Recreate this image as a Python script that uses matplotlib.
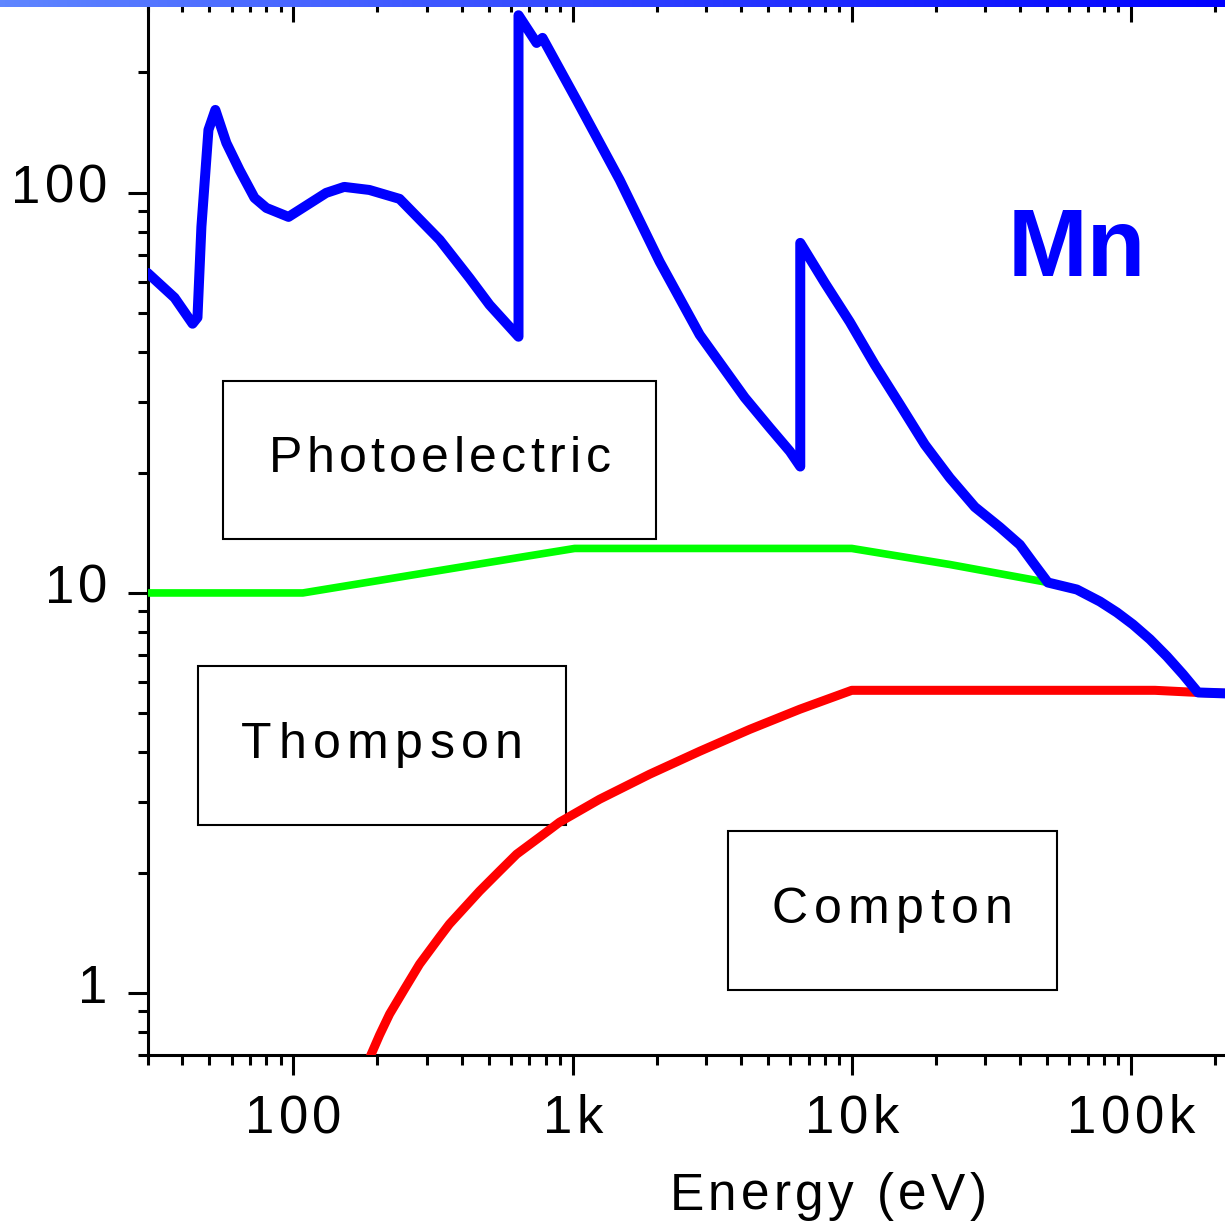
import numpy as np
import matplotlib
matplotlib.use("Agg")
import matplotlib.pyplot as plt
from matplotlib.colors import LinearSegmentedColormap
from matplotlib.font_manager import FontProperties, findfont, get_font
from matplotlib.patches import Rectangle
from matplotlib.ticker import NullFormatter
from matplotlib.transforms import offset_copy

# Total (photoelectric dominated) cross section for Mn
total_energy = [30, 37.5, 43.5, 45.3, 46.8, 49.6, 52.5, 57.5, 64.1, 72.5, 80, 96,
                131, 152, 187, 240, 334, 427, 504, 640, 640, 743, 780, 1033,
                1474, 2050, 2852, 4135, 5082, 6000, 6539, 6539, 8002, 9836,
                12090, 14860, 18260, 22450, 27600, 33930, 40010, 44540, 50410,
                64030, 77440, 89080, 101700, 117000, 134600, 153600, 173900,
                217300]
total_value = [63.1, 54.7, 47.1, 48.8, 82.3, 143.7, 161.2, 133.3, 114.1, 97.2,
               91.7, 87.1, 100, 103.5, 101.7, 96.6, 76.3, 61.3, 52.5, 43.7, 278,
               237, 244, 170.7, 107.8, 67.3, 44.2, 30.8, 25.9, 22.6, 20.7, 75.0,
               59.6, 47.6, 37.2, 29.6, 23.5, 19.4, 16.4, 14.6, 13.2, 11.92,
               10.62, 10.2, 9.52, 8.94, 8.34, 7.66, 6.94, 6.26, 5.64, 5.61]

# Thompson (coherent) scattering
thompson_energy = [30, 108, 645, 1017, 10000, 22450, 50410]
thompson_value = [10.0, 10.0, 12.27, 12.92, 12.92, 11.78, 10.62]

# Compton (incoherent) scattering
compton_energy = [186, 203.4, 221, 249.9, 283, 333.8, 362, 464, 547.4, 630,
                  761.6, 898, 1250, 1888, 2852, 4309, 6511, 10000, 121900,
                  173900, 217300]
compton_value = [0.68, 0.785, 0.886, 1.023, 1.181, 1.380, 1.487, 1.797, 2.017,
                 2.223, 2.452, 2.673, 3.051, 3.523, 4.02, 4.56, 5.12, 5.71,
                 5.71, 5.64, 5.61]

xtick_values = [100, 1000, 10000, 100000]
xtick_labels = ["100", "1k", "10k", "100k"]
ytick_values = [1, 10, 100]
ytick_labels = ["1", "10", "100"]

W, H = 1225, 1223
fig = plt.figure(figsize=(W / 100, H / 100), dpi=100)
ax = fig.add_axes([147.5 / W, (H - 1055) / H, 1079 / W, 1053 / H])


def advances(s, prop):
    font = get_font(findfont(prop))
    font.set_size(prop.get_size_in_points(), 100)
    return [font.load_char(ord(c)).linearHoriAdvance / 65536 for c in s]


def spaced_text(x, y, s, size, track, transform, ha="center", dx=0, dy=0):
    # letter-spaced text, one glyph at a time (offsets in pixels)
    prop = FontProperties(family="Liberation Sans", size=size)
    adv = advances(s, prop)
    total = sum(adv) + track * (len(s) - 1)
    pos = {"center": -total / 2, "right": -total, "left": 0}[ha] + dx
    for c, a in zip(s, adv):
        tr = offset_copy(transform, fig=fig, x=pos + a / 2, y=dy, units="dots")
        ax.text(x, y, c, fontproperties=prop, transform=tr, ha="center",
                va="baseline", clip_on=False)
        pos += a + track


ax.plot(thompson_energy, thompson_value, color="#00ff00", lw=5.5,
        solid_joinstyle="round", solid_capstyle="round", zorder=3)
ax.plot(compton_energy, compton_value, color="#ff0000", lw=6.5,
        solid_joinstyle="round", solid_capstyle="round", zorder=4)
ax.plot(total_energy, total_value, color="#0000ff", lw=7.2,
        solid_joinstyle="round", solid_capstyle="round", zorder=5)

ax.set_xscale("log")
ax.set_yscale("log")
ax.set_xlim(30, 2.2e5)
ax.set_ylim(0.7, 300)

for side in ["left", "bottom", "top"]:
    ax.spines[side].set_linewidth(2.2)
ax.spines["right"].set_visible(False)
ax.tick_params(which="both", direction="out", width=2.2, labelbottom=False,
               labelleft=False)
ax.tick_params(which="major", length=14.4)
ax.tick_params(which="minor", length=7.2)
ax.xaxis.set_minor_formatter(NullFormatter())
ax.yaxis.set_minor_formatter(NullFormatter())

top = ax.twiny()
top.set_xscale("log")
top.set_xlim(ax.get_xlim())
top.tick_params(which="both", direction="in", width=2.2, labeltop=False)
top.tick_params(which="major", length=14.4)
top.tick_params(which="minor", length=7.2)
top.xaxis.set_minor_formatter(NullFormatter())
for s in top.spines.values():
    s.set_visible(False)

for v, lab in zip(xtick_values, xtick_labels):
    spaced_text(v, 0, lab, 38, 4.3, ax.get_xaxis_transform(), dy=-78)
for v, lab in zip(ytick_values, ytick_labels):
    spaced_text(0, v, lab, 38, 4.3, ax.get_yaxis_transform(), ha="right",
                dx=-40, dy=-10)

spaced_text(0.6307, 0, "Energy (eV)", 37, 4.3, ax.transAxes, dy=-155)

# labelled boxes
boxes = [((0.070, 0.490), 0.401, 0.150, "Photoelectric", 0.2706, 0.5537, 4.4),
         ((0.0468, 0.2184), 0.341, 0.151, "Thompson", 0.2173, 0.2825, 6.5),
         ((0.538, 0.0617), 0.305, 0.151, "Compton", 0.690, 0.1258, 6.5)]
for (x0, y0), w, h, name, tx, ty, tr in boxes:
    ax.add_patch(Rectangle((x0, y0), w, h, transform=ax.transAxes, fill=False,
                           ec="black", lw=1.5, zorder=2))
    spaced_text(tx, ty, name, 36, tr, ax.transAxes)

ax.text(0.8615, 0.7398, "Mn", transform=ax.transAxes, ha="center",
        va="baseline", fontsize=69, fontweight="bold", color="#0000ff",
        family="Liberation Sans")

# gradient strip along the top edge
bar = fig.add_axes([0, 1 - 7 / H, 1, 7 / H], zorder=10)
cmap = LinearSegmentedColormap.from_list("strip", ["#5f86ff", "#0000ff"])
bar.imshow(np.linspace(0, 1, 256)[None, :], cmap=cmap, aspect="auto")
bar.axis("off")

fig.savefig("out.png", dpi=100)
